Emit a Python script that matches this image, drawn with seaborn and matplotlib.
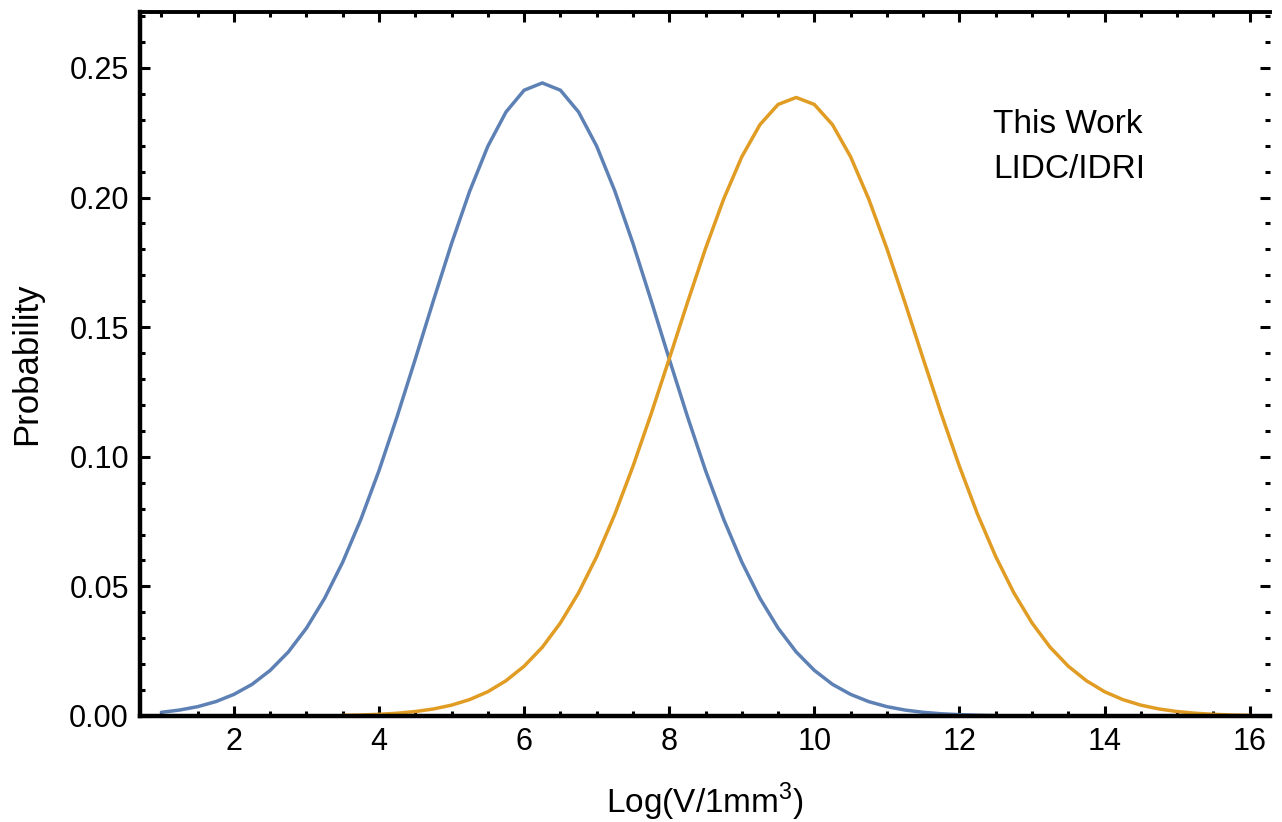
"""
Volume distribution comparison: This Work vs LIDC/IDRI
"""

import pandas as pd
import matplotlib
matplotlib.use('Agg')
import matplotlib.pyplot as plt
from matplotlib.ticker import MultipleLocator
import seaborn as sns

# Values (every 0.25 in Log(V))
blue_x = [1.0, 1.25, 1.5, 1.75, 2.0, 2.25, 2.5, 2.75, 3.0, 3.25, 3.5, 3.75,
          4.0, 4.25, 4.5, 4.75, 5.0, 5.25, 5.5, 5.75, 6.0, 6.25, 6.5, 6.75,
          7.0, 7.25, 7.5, 7.75, 8.0, 8.25, 8.5, 8.75, 9.0, 9.25, 9.5, 9.75,
          10.0, 10.25, 10.5, 10.75, 11.0, 11.25, 11.5, 11.75, 12.0, 12.25, 12.5]
blue_y = [0.00141, 0.00228, 0.00359, 0.00553, 0.00833, 0.0122, 0.0176, 0.0247,
          0.0339, 0.0454, 0.0594, 0.0759, 0.0947, 0.1156, 0.1377, 0.1603,
          0.1823, 0.2025, 0.2198, 0.2330, 0.2414, 0.2442, 0.2414, 0.2330,
          0.2198, 0.2025, 0.1823, 0.1603, 0.1377, 0.1156, 0.0947, 0.0759,
          0.0594, 0.0454, 0.0339, 0.0247, 0.0176, 0.0122, 0.00833, 0.00553,
          0.00359, 0.00228, 0.00141, 0.00085, 0.00050, 0.00029, 0.00016]

orange_x = [3.5, 3.75, 4.0, 4.25, 4.5, 4.75, 5.0, 5.25, 5.5, 5.75, 6.0, 6.25,
            6.5, 6.75, 7.0, 7.25, 7.5, 7.75, 8.0, 8.25, 8.5, 8.75, 9.0, 9.25,
            9.5, 9.75, 10.0, 10.25, 10.5, 10.75, 11.0, 11.25, 11.5, 11.75,
            12.0, 12.25, 12.5, 12.75, 13.0, 13.25, 13.5, 13.75, 14.0, 14.25,
            14.5, 14.75, 15.0, 15.25, 15.5, 15.75, 16.0]
orange_y = [0.00022, 0.00038, 0.00064, 0.00105, 0.00171, 0.00270, 0.00418,
            0.00633, 0.00936, 0.0136, 0.0192, 0.0265, 0.0359, 0.0475, 0.0615,
            0.0778, 0.0963, 0.1165, 0.1378, 0.1594, 0.1803, 0.1994, 0.2157,
            0.2281, 0.2359, 0.2386, 0.2359, 0.2281, 0.2157, 0.1994, 0.1803,
            0.1594, 0.1378, 0.1165, 0.0963, 0.0778, 0.0615, 0.0475, 0.0359,
            0.0265, 0.0192, 0.0136, 0.00936, 0.00633, 0.00418, 0.00270,
            0.00171, 0.00105, 0.00064, 0.00038, 0.00022]

series_names = ['This Work', 'LIDC/IDRI']
series_colors = ['#5E81B5', '#E19C24']

sns.set_style('ticks')
plt.rcParams['font.family'] = ['Liberation Sans', 'DejaVu Sans']
plt.rcParams['mathtext.fontset'] = 'custom'
plt.rcParams['mathtext.rm'] = 'Liberation Sans'
plt.rcParams['text.color'] = 'black'
plt.rcParams['axes.labelcolor'] = 'black'
plt.rcParams['xtick.color'] = 'black'
plt.rcParams['ytick.color'] = 'black'
plt.rcParams['axes.edgecolor'] = 'black'

df = pd.concat([
    pd.DataFrame({'x': blue_x, 'y': blue_y, 'series': series_names[0]}),
    pd.DataFrame({'x': orange_x, 'y': orange_y, 'series': series_names[1]}),
])

fig = plt.figure(figsize=(12.82, 8.22), dpi=100)
ax = fig.add_axes([0.1092, 0.129, 0.8814, 0.8565])

sns.lineplot(data=df, x='x', y='y', hue='series', palette=series_colors,
             linewidth=2.5, legend=False, ax=ax)

ax.set_xlim(0.705, 16.28)
ax.set_ylim(0, 0.2716)

ax.xaxis.set_major_locator(MultipleLocator(2))
ax.xaxis.set_minor_locator(MultipleLocator(0.5))
ax.yaxis.set_major_locator(MultipleLocator(0.05))
ax.yaxis.set_minor_locator(MultipleLocator(0.01))
ax.yaxis.set_major_formatter(plt.FuncFormatter(lambda v, p: f'{v:.2f}'))

ax.tick_params(which='both', direction='in', top=True, right=True,
               labelsize=22, pad=8)
ax.tick_params(which='major', length=7, width=2.2)
ax.tick_params(which='minor', length=3.5, width=2.2)

for side in ['left', 'bottom']:
    ax.spines[side].set_linewidth(3.2)
ax.spines['top'].set_linewidth(2.8)
ax.spines['right'].set_visible(False)

ax.set_xlabel('Log(V/1mm$^3$)', fontsize=24, labelpad=17)
ax.set_ylabel('Probability', fontsize=25, labelpad=19)

# text-only legend, as in the reference
ax.text(0.755, 0.8395, series_names[0], transform=ax.transAxes,
        fontsize=24, va='center', ha='left')
ax.text(0.755, 0.7756, series_names[1], transform=ax.transAxes,
        fontsize=24, va='center', ha='left')

fig.savefig('out.png', dpi=100)
